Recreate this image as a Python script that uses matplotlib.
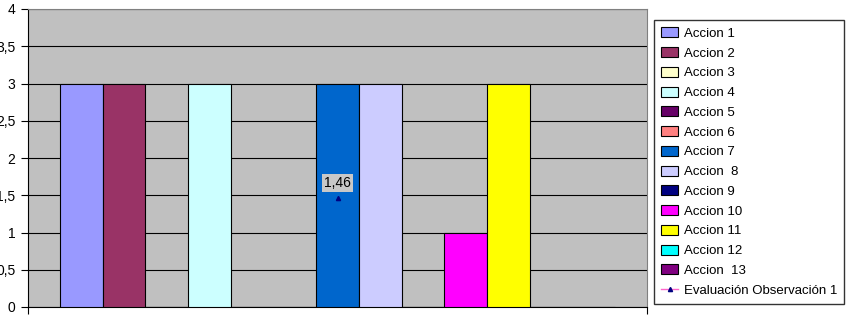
#!/usr/bin/env python3

from matplotlib import pyplot as plt
from matplotlib.ticker import FuncFormatter

plt.rcParams["font.family"] = ["Liberation Sans", "DejaVu Sans"]

# Acciones
labels = [
    "Accion 1", "Accion 2", "Accion 3", "Accion 4", "Accion 5",
    "Accion 6", "Accion 7", "Accion  8", "Accion 9", "Accion 10",
    "Accion 11", "Accion 12", "Accion  13",
]
values = [3, 3, 0, 3, 0, 0, 3, 3, 0, 1, 3, 0, 0]
colors = [
    "#9999FF", "#993366", "#FFFFCC", "#CCFFFF", "#660066",
    "#FF8080", "#0066CC", "#CCCCFF", "#000080", "#FF00FF",
    "#FFFF00", "#00FFFF", "#800080",
]

line_label = "Evaluación Observación 1"
line_value = 1.46

fig = plt.figure(figsize=(8.46, 3.16), dpi=100)
ax = fig.add_axes([28 / 846, 1 - 307 / 316, 619 / 846, 298 / 316])
ax.set_facecolor("#C0C0C0")

n = len(values)
w = 1 / (n + 1.5)  # Excel gap width 150%
handles = []
for i, (lab, v, c) in enumerate(zip(labels, values, colors)):
    x = 0.5 + (i - (n - 1) / 2) * w
    h = ax.bar(x, v, width=w, color=c, edgecolor="black", linewidth=0.8,
               label=lab, zorder=3)
    handles.append(h)

# line series (single point)
ln, = ax.plot([0.5], [line_value], color="#FF66CC", linewidth=1,
              marker="^", markersize=3, markerfacecolor="#000080",
              markeredgecolor="#000080", zorder=4, label=line_label)
ax.annotate(f"{line_value:.2f}".replace(".", ","), (0.5, line_value),
            xytext=(0, 11), textcoords="offset points", ha="center",
            va="center", fontsize=10,
            bbox=dict(boxstyle="square,pad=0.15", fc="#C8C8C8", ec="none"),
            zorder=5)

ax.set_xlim(0, 1)
ax.set_ylim(0, 4)
ax.set_yticks([i * 0.5 for i in range(9)])
ax.yaxis.set_major_formatter(FuncFormatter(
    lambda v, p: (f"{v:g}").replace(".", ",")))
ax.grid(axis="y", color="black", linewidth=0.8, zorder=1)
ax.set_xticks([0, 1])
ax.set_xticklabels([])
ax.tick_params(axis="both", direction="out", length=5, width=0.8,
               labelsize=10, pad=4)
for s in ["top", "right"]:
    ax.spines[s].set_color("#808080")
for s in ["left", "bottom"]:
    ax.spines[s].set_linewidth(0.8)

fig.legend(handles=handles + [ln], loc="upper left",
           bbox_to_anchor=(654 / 846, 1 - 20 / 316), fontsize=9.5,
           frameon=True, fancybox=False, edgecolor="black",
           labelspacing=0.54, handlelength=1.25, handleheight=0.8,
           handletextpad=0.45, borderpad=0.55, borderaxespad=0)

plt.savefig("out.png", dpi=100)
